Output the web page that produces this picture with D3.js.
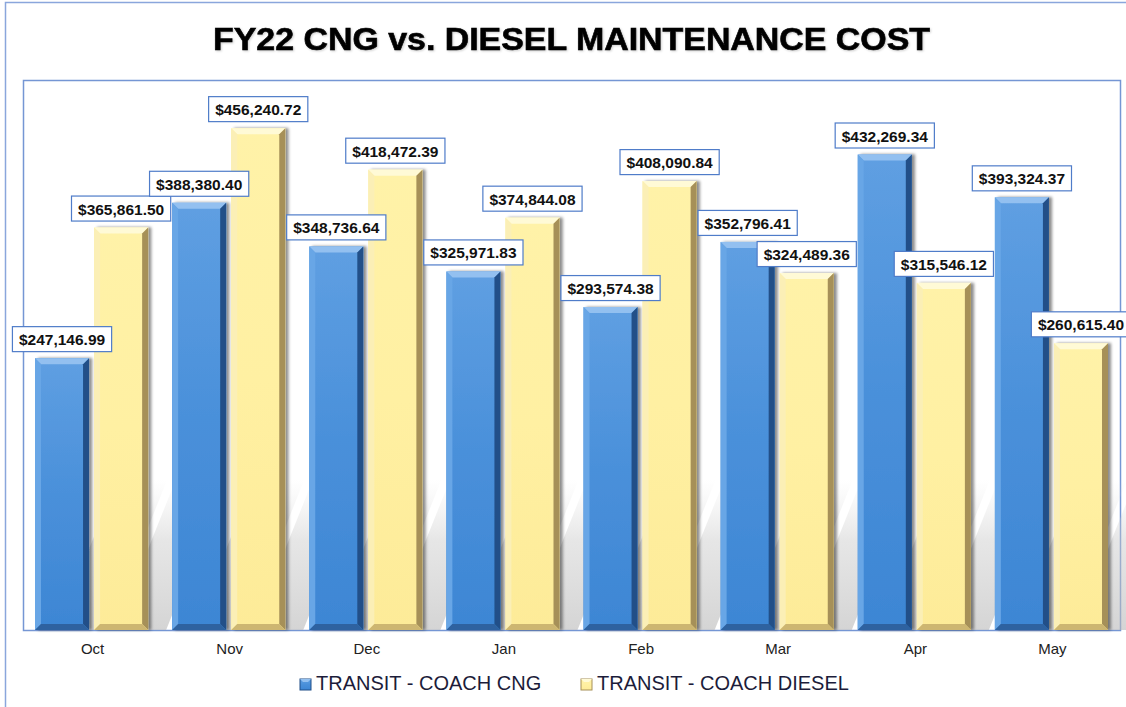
<!DOCTYPE html>
<html>
<head>
<meta charset="utf-8">
<script src="https://cdn.jsdelivr.net/npm/d3@7"></script>
<style>
  html, body { margin: 0; padding: 0; background: #fff; overflow: hidden; }
  svg { display: block; font-family: Arial, "Liberation Sans", sans-serif; }
</style>
</head>
<body>
<div id="container"></div>
<script>
const months = ["Oct", "Nov", "Dec", "Jan", "Feb", "Mar", "Apr", "May"];
const seriesNames = ["TRANSIT - COACH CNG", "TRANSIT - COACH DIESEL"];
const cngCost = [247146.99, 388380.40, 348736.64, 325971.83, 293574.38, 352796.41, 432269.34, 393324.37];
const dieselCost = [365861.50, 456240.72, 418472.39, 374844.08, 408090.84, 324489.36, 315546.12, 260615.40];
const chartTitle = "FY22 CNG vs. DIESEL MAINTENANCE COST";

const width = 1126, height = 707;
const plot = {left: 23, right: 1120, top: 80, bottom: 630};
const bevel = 6;

// face colours for each series: main (top -> bottom), bevel faces
const palette = {
    "TRANSIT - COACH CNG": {main: ["#5f9fe2", "#4a90da", "#3d86d4"], top: "#93c0f0", left: "#68a6e6", right: "#214f88", bottom: "#2d62a0"},
    "TRANSIT - COACH DIESEL": {main: ["#fff2a8", "#fff0a2", "#fdeb98"], top: "#fffad6", left: "#fbefb6", right: "#a69058", bottom: "#cdb671"}
};

const data = [];
months.forEach((m, i) => {
    data.push({month: m, series: seriesNames[0], value: cngCost[i]});
    data.push({month: m, series: seriesNames[1], value: dieselCost[i]});
});

const fmt = d3.format("$,.2f");

const svg = d3.select("#container").append("svg")
    .attr("width", width)
    .attr("height", height);

const defs = svg.append("defs");

// gradients for bar faces
seriesNames.forEach((s, k) => {
    const g = defs.append("linearGradient").attr("id", "face" + k)
        .attr("x1", "0%").attr("x2", "0%").attr("y1", "0%").attr("y2", "100%");
    const c = palette[s].main;
    [0, 0.5, 1].forEach((o, j) => g.append("stop").attr("offset", o).attr("stop-color", c[j]));
});
const shadowGrad = defs.append("linearGradient").attr("id", "floorShadow")
    .attr("x1", "0%").attr("x2", "0%").attr("y1", "100%").attr("y2", "0%");
shadowGrad.append("stop").attr("offset", 0).attr("stop-color", "#b8b8b8").attr("stop-opacity", 0.6);
shadowGrad.append("stop").attr("offset", 0.6).attr("stop-color", "#c8c8c8").attr("stop-opacity", 0.45);
shadowGrad.append("stop").attr("offset", 1).attr("stop-color", "#d8d8d8").attr("stop-opacity", 0);

const drop = defs.append("filter").attr("id", "barShadow")
    .attr("x", "-20%").attr("y", "-10%").attr("width", "150%").attr("height", "120%");
drop.append("feDropShadow").attr("dx", 3).attr("dy", 0).attr("stdDeviation", 1.5)
    .attr("flood-color", "#000").attr("flood-opacity", 0.45);

const titleShadow = defs.append("filter").attr("id", "titleShadow");
titleShadow.append("feDropShadow").attr("dx", 1).attr("dy", 1).attr("stdDeviation", 0.8)
    .attr("flood-color", "#000").attr("flood-opacity", 0.2);

// outer chart border
svg.append("rect")
    .attr("x", 5.5).attr("y", 2.5)
    .attr("width", width + 20).attr("height", height + 20)
    .attr("fill", "#fff")
    .attr("stroke", "#8aa6dc").attr("stroke-width", 1.5);

// title
svg.append("text")
    .attr("x", 213).attr("y", 50)
    .attr("font-size", 31).attr("font-weight", "bold")
    .attr("textLength", 717).attr("lengthAdjust", "spacingAndGlyphs")
    .attr("fill", "#000")
    .attr("stroke", "#000").attr("stroke-width", 0.6)
    .attr("filter", "url(#titleShadow)")
    .text(chartTitle);

// scales
const x0 = d3.scaleBand()
    .domain(months)
    .range([plot.left, plot.right])
    .paddingInner(0.175)
    .paddingOuter(0.0875);
const x1 = d3.scaleBand()
    .domain(seriesNames)
    .range([0, x0.bandwidth()])
    .paddingInner(0.085);
const y = d3.scaleLinear()
    .domain([0, 500000])
    .range([plot.bottom, plot.top]);

// plot area
svg.append("rect")
    .attr("x", plot.left + 0.5).attr("y", plot.top + 0.5)
    .attr("width", plot.right - plot.left).attr("height", plot.bottom - plot.top)
    .attr("fill", "#fff")
    .attr("stroke", "#7596d4").attr("stroke-width", 1.5);

// soft floor shadows behind the bars
svg.append("g").selectAll("polygon")
    .data(data)
    .join("polygon")
    .attr("fill", "url(#floorShadow)")
    .attr("points", d => {
        const bx = x0(d.month) + x1(d.series), bw = x1.bandwidth();
        const h = Math.min(150, plot.bottom - y(d.value));
        const sk = h * 0.4;
        return [[bx + bw * 0.4, plot.bottom], [bx + bw + 18, plot.bottom],
            [bx + bw + 18 + sk, plot.bottom - h], [bx + bw * 0.4 + sk, plot.bottom - h]]
            .map(p => p.join(",")).join(" ");
    });

// bars
const bars = svg.append("g").selectAll("g.bar")
    .data(data)
    .join("g")
    .attr("class", "bar")
    .attr("transform", d => `translate(${x0(d.month) + x1(d.series)},${y(d.value)})`)
    .attr("filter", "url(#barShadow)");

bars.each(function (d) {
    const g = d3.select(this);
    const w = x1.bandwidth(), h = y(0) - y(d.value), b = bevel;
    const p = palette[d.series], k = seriesNames.indexOf(d.series);
    g.append("rect").attr("width", w).attr("height", h).attr("fill", `url(#face${k})`);
    const poly = (pts, fill) => g.append("polygon")
        .attr("points", pts.map(q => q.join(",")).join(" "))
        .attr("fill", fill);
    poly([[0, 0], [w, 0], [w - b, b], [b, b]], p.top);
    poly([[0, 0], [b, b], [b, h - b], [0, h]], p.left);
    poly([[w, 0], [w, h], [w - b, h - b], [w - b, b]], p.right);
    poly([[0, h], [b, h - b], [w - b, h - b], [w, h]], p.bottom);
});

// value labels
const labels = svg.append("g").selectAll("g.label")
    .data(data)
    .join("g")
    .attr("class", "label")
    .attr("transform", d => `translate(${x0(d.month) + x1(d.series) + x1.bandwidth() / 2},${y(d.value) - 6})`);

labels.append("rect").attr("class", "box");
labels.append("text")
    .attr("text-anchor", "middle")
    .attr("y", -7)
    .attr("font-size", 15.5).attr("font-weight", "bold")
    .attr("fill", "#111")
    .text(d => fmt(d.value));
labels.each(function () {
    const g = d3.select(this);
    const tw = g.select("text").node().getComputedTextLength();
    g.select("rect.box")
        .attr("x", -tw / 2 - 6.5).attr("y", -25.5)
        .attr("width", tw + 13).attr("height", 25)
        .attr("fill", "#fff")
        .attr("stroke", "#4f7cc9").attr("stroke-width", 1.2);
});

// x axis labels
svg.append("g").selectAll("text")
    .data(months)
    .join("text")
    .attr("x", d => x0(d) + x0.bandwidth() / 2 + 1)
    .attr("y", 654)
    .attr("text-anchor", "middle")
    .attr("font-size", 15)
    .attr("fill", "#222")
    .text(d => d);

// legend
const legendX = [300, 581];
const legend = svg.append("g").selectAll("g")
    .data(seriesNames)
    .join("g")
    .attr("transform", (d, i) => `translate(${legendX[i]},679)`);
legend.append("rect")
    .attr("width", 11).attr("height", 11)
    .attr("fill", (d, i) => `url(#face${i})`)
    .attr("stroke", d => palette[d].right).attr("stroke-width", 1);
legend.append("polygon")
    .attr("points", "0,0 11,0 8,3 3,3")
    .attr("fill", d => palette[d].top);
legend.append("text")
    .attr("x", 16).attr("y", 11)
    .attr("font-size", 20)
    .attr("fill", "#1c1c3a")
    .text(d => d);
</script>
</body>
</html>
